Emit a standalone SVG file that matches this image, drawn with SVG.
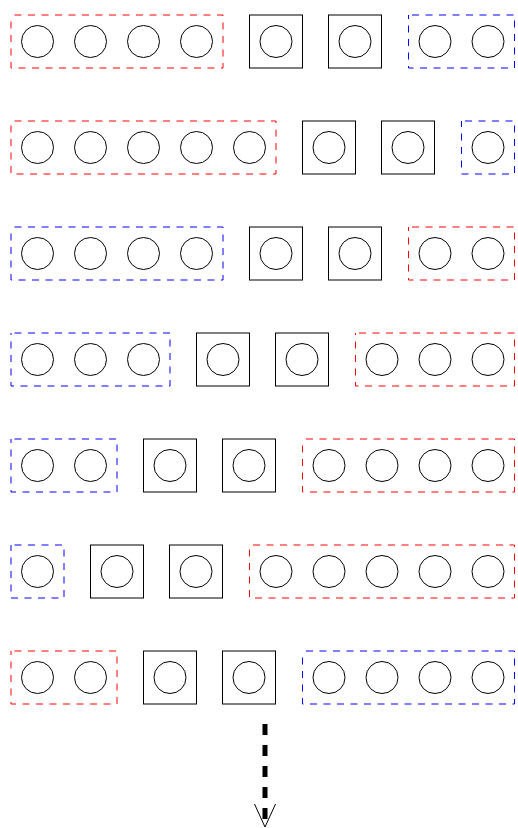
<svg xmlns="http://www.w3.org/2000/svg" width="518" height="828" viewBox="0 0 518 828">
<style>
.c{fill:none;stroke:#000;stroke-width:1}
.sq{fill:none;stroke:#000;stroke-width:1}
.r{fill:none;stroke:#ff0000;stroke-width:1;stroke-dasharray:7,6.5;stroke-dashoffset:10}
.b{fill:none;stroke:#0000ff;stroke-width:1;stroke-dasharray:7,6.5;stroke-dashoffset:10}
.ar{fill:none;stroke:#000;stroke-width:5;stroke-dasharray:11,10}
.ah{fill:none;stroke:#000;stroke-width:1}
</style>
<defs>
<g id="sqn"><rect class="sq" x="0" y="0" width="53" height="53"/><circle class="c" cx="26.5" cy="26.5" r="16"/></g>
<circle id="cir" class="c" cx="26.5" cy="26.5" r="16"/>
</defs>
<g id="row1">
<g id="r1-left"><rect class="r" x="11" y="15" width="212" height="53"/><use href="#cir" x="11" y="15"/><use href="#cir" x="64" y="15"/><use href="#cir" x="117" y="15"/><use href="#cir" x="170" y="15"/></g>
<g id="r1-sq1"><use href="#sqn" x="249.5" y="15"/></g>
<g id="r1-sq2"><use href="#sqn" x="328.5" y="15"/></g>
<g id="r1-right"><rect class="b" x="408.5" y="15" width="106" height="53"/><use href="#cir" x="408.5" y="15"/><use href="#cir" x="461.5" y="15"/></g>
</g>
<g id="row2">
<g id="r2-left"><rect class="r" x="11" y="121" width="265" height="53"/><use href="#cir" x="11" y="121"/><use href="#cir" x="64" y="121"/><use href="#cir" x="117" y="121"/><use href="#cir" x="170" y="121"/><use href="#cir" x="223" y="121"/></g>
<g id="r2-sq1"><use href="#sqn" x="302.5" y="121"/></g>
<g id="r2-sq2"><use href="#sqn" x="381.5" y="121"/></g>
<g id="r2-right"><rect class="b" x="461.5" y="121" width="53" height="53"/><use href="#cir" x="461.5" y="121"/></g>
</g>
<g id="row3">
<g id="r3-left"><rect class="b" x="11" y="227" width="212" height="53"/><use href="#cir" x="11" y="227"/><use href="#cir" x="64" y="227"/><use href="#cir" x="117" y="227"/><use href="#cir" x="170" y="227"/></g>
<g id="r3-sq1"><use href="#sqn" x="249.5" y="227"/></g>
<g id="r3-sq2"><use href="#sqn" x="328.5" y="227"/></g>
<g id="r3-right"><rect class="r" x="408.5" y="227" width="106" height="53"/><use href="#cir" x="408.5" y="227"/><use href="#cir" x="461.5" y="227"/></g>
</g>
<g id="row4">
<g id="r4-left"><rect class="b" x="11" y="333" width="159" height="53"/><use href="#cir" x="11" y="333"/><use href="#cir" x="64" y="333"/><use href="#cir" x="117" y="333"/></g>
<g id="r4-sq1"><use href="#sqn" x="196.5" y="333"/></g>
<g id="r4-sq2"><use href="#sqn" x="275.5" y="333"/></g>
<g id="r4-right"><rect class="r" x="355.5" y="333" width="159" height="53"/><use href="#cir" x="355.5" y="333"/><use href="#cir" x="408.5" y="333"/><use href="#cir" x="461.5" y="333"/></g>
</g>
<g id="row5">
<g id="r5-left"><rect class="b" x="11" y="439" width="106" height="53"/><use href="#cir" x="11" y="439"/><use href="#cir" x="64" y="439"/></g>
<g id="r5-sq1"><use href="#sqn" x="143.5" y="439"/></g>
<g id="r5-sq2"><use href="#sqn" x="222.5" y="439"/></g>
<g id="r5-right"><rect class="r" x="302.5" y="439" width="212" height="53"/><use href="#cir" x="302.5" y="439"/><use href="#cir" x="355.5" y="439"/><use href="#cir" x="408.5" y="439"/><use href="#cir" x="461.5" y="439"/></g>
</g>
<g id="row6">
<g id="r6-left"><rect class="b" x="11" y="545" width="53" height="53"/><use href="#cir" x="11" y="545"/></g>
<g id="r6-sq1"><use href="#sqn" x="90.5" y="545"/></g>
<g id="r6-sq2"><use href="#sqn" x="169.5" y="545"/></g>
<g id="r6-right"><rect class="r" x="249.5" y="545" width="265" height="53"/><use href="#cir" x="249.5" y="545"/><use href="#cir" x="302.5" y="545"/><use href="#cir" x="355.5" y="545"/><use href="#cir" x="408.5" y="545"/><use href="#cir" x="461.5" y="545"/></g>
</g>
<g id="row7">
<g id="r7-left"><rect class="r" x="11" y="651" width="106" height="53"/><use href="#cir" x="11" y="651"/><use href="#cir" x="64" y="651"/></g>
<g id="r7-sq1"><use href="#sqn" x="143.5" y="651"/></g>
<g id="r7-sq2"><use href="#sqn" x="222.5" y="651"/></g>
<g id="r7-right"><rect class="b" x="302.5" y="651" width="212" height="53"/><use href="#cir" x="302.5" y="651"/><use href="#cir" x="355.5" y="651"/><use href="#cir" x="408.5" y="651"/><use href="#cir" x="461.5" y="651"/></g>
</g>
<g id="connectors">
<line class="ar" x1="265" y1="724" x2="265" y2="826"/>
<polyline class="ah" points="254.5,804 265,827 275.5,804"/>
</g>
</svg>
